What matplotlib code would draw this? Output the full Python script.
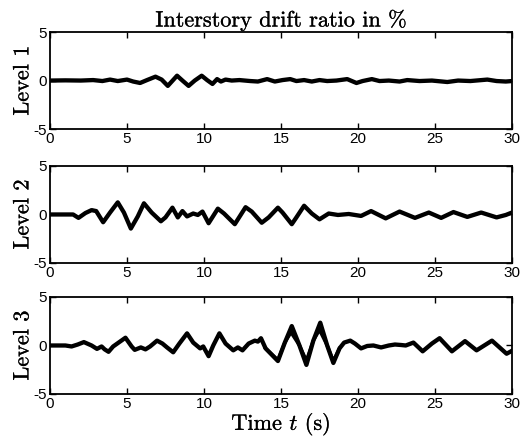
import matplotlib
matplotlib.use("Agg")
import matplotlib.pyplot as plt
import matplotlib.patheffects as pe

# valori: tempo (s) e drift di interpiano (%)
t1 = [0, 1, 2, 2.8, 3.4, 3.9, 4.4, 5.0, 5.4, 5.85, 6.3, 6.85, 7.25, 7.65, 8.25, 8.6,
      9.0, 9.4, 9.85, 10.2, 10.55, 10.85, 11.1, 11.4, 11.8, 12.3, 13.0, 13.5, 14.1,
      14.6, 15.1, 15.6, 16.0, 16.5, 17.0, 17.5, 18.0, 18.6, 19.3, 19.9, 20.3, 20.9,
      21.4, 22.0, 22.7, 23.2, 24.0, 24.8, 25.8, 26.5, 27.3, 28.4, 29.0, 29.6, 30.0]
d1 = [0, 0.02, 0, 0.05, -0.05, 0.1, -0.05, 0.1, -0.1, -0.25, 0.05, 0.4, 0.1, -0.55,
      0.5, 0.0, -0.55, 0.0, 0.5, 0.05, -0.35, 0.15, -0.1, 0.1, 0.0, 0.05, -0.05, -0.1,
      0.15, -0.1, 0.05, 0.15, -0.05, 0.05, -0.1, 0.05, -0.05, 0.0, 0.15, -0.25, -0.05,
      0.15, -0.05, 0.0, -0.1, 0.05, -0.05, 0.0, -0.15, 0.0, -0.05, 0.1, -0.05, -0.1, -0.05]

t2 = [0, 1.5, 1.85, 2.3, 2.7, 3.0, 3.45, 3.9, 4.4, 4.8, 5.25, 5.7, 6.1, 6.6, 7.2, 7.5,
      7.95, 8.3, 8.6, 8.9, 9.3, 9.6, 9.9, 10.3, 10.9, 11.3, 12.0, 12.7, 13.1, 13.75,
      14.2, 14.8, 15.1, 15.7, 16.0, 16.5, 17.0, 17.5, 18.1, 18.7, 19.4, 20.2, 20.85,
      21.8, 22.7, 23.7, 24.6, 25.4, 26.2, 27.1, 28.0, 29.0, 29.6, 30.0]
d2 = [0, 0.0, -0.35, 0.15, 0.45, 0.35, -0.8, 0.2, 1.25, 0.2, -1.45, -0.2, 1.15, 0.2,
      -0.7, -0.3, 0.7, -0.3, 0.35, -0.2, 0.1, -0.05, 0.3, -0.9, 0.6, 0.1, -1.0, 0.75,
      0.3, -0.85, -0.3, 0.7, 0.2, -1.0, -0.3, 0.9, 0.1, -0.5, 0.1, -0.05, 0.05, -0.15,
      0.35, -0.4, 0.3, -0.35, 0.2, -0.35, 0.25, -0.25, 0.2, -0.3, -0.05, 0.2]

t3 = [0, 1.0, 1.4, 1.8, 2.2, 2.7, 3.05, 3.35, 3.55, 3.8, 4.1, 4.9, 5.3, 5.5, 5.9, 6.2,
      6.5, 6.95, 7.3, 7.6, 8.0, 8.4, 8.9, 9.3, 9.75, 9.95, 10.3, 10.6, 11.0, 11.4, 11.9,
      12.2, 12.5, 12.9, 13.3, 13.5, 13.7, 14.0, 14.8, 15.25, 15.7, 16.2, 16.65, 17.1,
      17.55, 18.0, 18.4, 18.8, 19.1, 19.5, 19.8, 20.2, 20.6, 21.0, 21.5, 22.0, 22.4,
      22.8, 23.1, 23.6, 24.2, 24.8, 25.3, 26.1, 26.95, 27.7, 28.7, 29.65, 30.0]
d3 = [0, 0.0, -0.1, 0.1, 0.35, 0.0, -0.35, -0.1, -0.4, -0.65, -0.1, 0.8, -0.1, -0.45,
      -0.2, -0.4, -0.1, 0.5, 0.2, -0.2, -0.7, 0.2, 1.25, 0.3, -0.3, -0.1, -1.1, 0.0,
      1.25, 0.2, -0.5, -0.2, -0.5, 0.2, 0.5, 0.4, 0.75, -0.3, -1.6, 0.3, 2.0, 0.0, -2.0,
      0.5, 2.35, 0.0, -1.8, -0.3, 0.3, 0.5, 0.2, -0.3, -0.05, 0.0, -0.2, 0.0, 0.1, 0.05,
      0.0, 0.3, -0.6, 0.2, 0.75, -0.6, 0.45, -0.5, 0.5, -0.85, -0.55]

# seconda curva (simulata) dove si separa dalla misurata nel livello 3
t3b = [14.0, 14.8, 15.25, 15.65, 16.2, 16.65, 17.1, 17.5, 18.0, 18.4, 18.8]
d3b = [-0.3, -1.5, 0.3, 1.35, 0.0, -1.55, 0.5, 1.6, 0.0, -1.6, -0.3]

livelli = ["Level 1", "Level 2", "Level 3"]
serie = [(t1, d1), (t2, d2), (t3, d3)]

plt.rcParams['mathtext.fontset'] = 'cm'
plt.rcParams['axes.unicode_minus'] = False

fig = plt.figure(figsize=(5.22, 4.42), dpi=100)

# posizioni dei tre pannelli (frazioni della figura)
bottoms = [0.708, 0.405, 0.1086]
altezza = 0.2195

# tratto leggero per rendere il testo un po' più marcato, come nella scansione
spesso = [pe.withStroke(linewidth=0.2, foreground='black')]

for i in range(3):
    ax = fig.add_axes([0.0958, bottoms[i], 0.885, altezza])
    t, d = serie[i]
    ax.plot(t, d, color='black', lw=3.1, solid_joinstyle='round')
    if i == 2:
        ax.plot(t3b, d3b, color='black', lw=2.4, solid_joinstyle='round')
    ax.set_xlim(0, 30)
    ax.set_ylim(-5, 5)
    ax.set_xticks([0, 5, 10, 15, 20, 25, 30])
    ax.set_yticks([-5, 0, 5])
    ax.tick_params(direction='in', top=True, right=True, length=4, width=1,
                   labelsize=11, pad=2)
    for lab in ax.get_xticklabels() + ax.get_yticklabels():
        lab.set_fontfamily('Liberation Sans')
    for sp in ax.spines.values():
        sp.set_linewidth(1.3)
    ax.set_ylabel(livelli[i], fontfamily='cmr10', fontsize=16, labelpad=1,
                  path_effects=spesso)
    if i == 0:
        ax.set_title('Interstory drift ratio in %', fontfamily='cmr10', fontsize=16,
                     pad=4, path_effects=spesso)
    if i == 2:
        ax.set_xlabel('Time $t$ (s)', fontfamily='cmr10', fontsize=16, labelpad=0,
                      path_effects=spesso)

fig.savefig('out.png', dpi=100)
